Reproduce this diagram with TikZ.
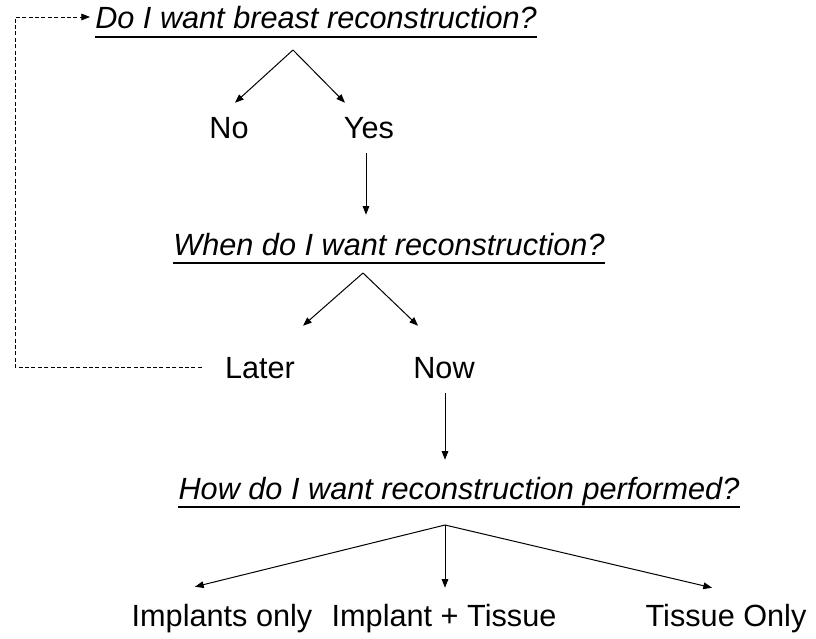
\documentclass[tikz,border=0pt]{standalone}
\usepackage{fontspec}
\setmainfont{Liberation Sans}
\usetikzlibrary{arrows.meta}
\tikzset{
  txt/.style={anchor=base,inner sep=0pt,text height=16.5pt,text depth=0pt,font=\fontsize{23}{28}\selectfont},
  qst/.style={txt,font=\fontsize{23}{28}\selectfont\itshape},
  arr/.style={-{Triangle[length=6.5pt,width=5pt]},line width=0.75pt},
  back/.style={arr,line width=0.6pt,dash pattern=on 3pt off 1.8pt}
}
\begin{document}
\begin{tikzpicture}[x=0.75pt,y=-0.75pt]
\useasboundingbox (0,0) rectangle (816,638);
% questions and answers
\node[qst] (q1) at (316,29) {Do I want breast reconstruction?};
\node[txt] (no) at (229,138) {No};
\node[txt] (yes) at (369,138) {Yes};
\node[qst] (q2) at (389,255) {When do I want reconstruction?};
\node[txt] (later) at (260,378) {Later};
\node[txt] (now) at (444,378) {Now};
\node[qst] (q3) at (459,499) {How do I want reconstruction performed?};
\node[txt] (impl) at (222,626) {Implants only};
\node[txt] (both) at (444,626) {Implant + Tissue};
\node[txt] (tis) at (726,626) {Tissue Only};
\foreach \q in {q1,q2,q3}
{
\draw[line width=1pt] ([shift={(0,8)}]\q.base west) -- ([shift={(0,8)}]\q.base east);
}
% branching points
\coordinate (a1) at (293,50);
\coordinate (a2) at (363,273);
\coordinate (a3) at (445,525);
\coordinate (c) at (15,17);
\draw[arr] (a1) -- ([shift={(6,-13)}]no.north);
\draw[arr] (a1) -- ([shift={(-24,-13)}]yes.north);
\draw[arr] ([shift={(-3,15)}]yes.south) -- ([shift={(-23,-18)}]q2.north);
\draw[arr] (a2) -- ([shift={(43,-30)}]later.north);
\draw[arr] (a2) -- ([shift={(-26,-30)}]now.north);
\draw[arr] ([shift={(1,15)}]now.south) -- ([shift={(-14,-17)}]q3.north);
\draw[arr] (a3) -- ([shift={(-27,-17)}]impl.north);
\draw[arr] (a3) -- ([shift={(1,-16)}]both.north);
\draw[arr] (a3) -- ([shift={(-14,-16)}]tis.north);
% back to the start
\draw[back] ([shift={(-23,0)}]later.west) -| (c) -- ([shift={(-5,-1)}]q1.west);
\end{tikzpicture}
\end{document}
